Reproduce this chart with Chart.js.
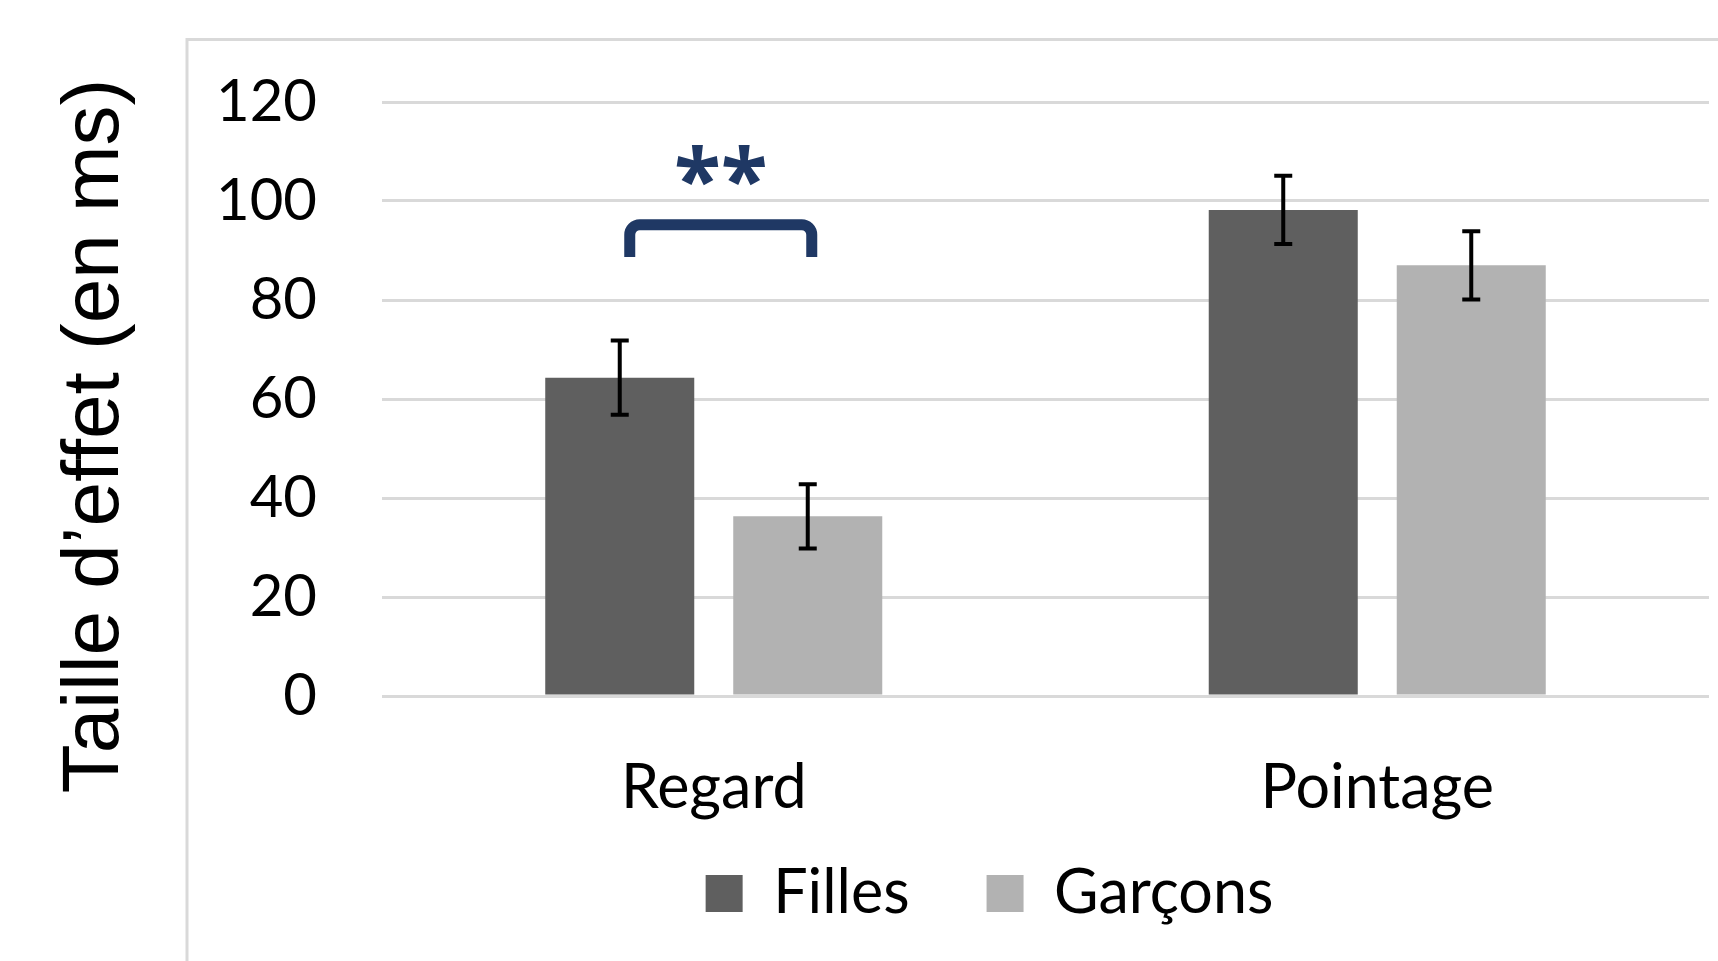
<!DOCTYPE html>
<html>
<head>
<meta charset="utf-8">
<script src="https://cdn.jsdelivr.net/npm/chart.js@4"></script>
<style>
  html, body { margin: 0; padding: 0; background: #fff; }
</style>
</head>
<body>
<canvas id="effetChart" width="1718" height="961"></canvas>
<script>
// Conditions
const categories = ['Regard', 'Pointage'];

// Moyennes (ms)
const filles = [64.3, 98.2];
const garcons = [36.3, 87.0];

// Erreurs standard
const fillesErr = [7.5, 6.9];
const garconsErr = [6.5, 6.9];

// Axe Y
const yMin = 0;
const yMax = 120;
const yStep = 20;

// Significativité (Regard)
const bracketTop = 95.2;
const bracketFoot = 88.7;
const starsLevel = 106.6;
const starsText = '**';

const yTitle = 'Taille d\u2019effet (en ms)';
const errors = [fillesErr, garconsErr];

const decor = {
  id: 'decor',
  afterLayout(chart) {
    // légende décalée comme dans l'original
    const lg = chart.legend;
    lg.left += 135; lg.right += 135;
    lg.top -= 40; lg.bottom -= 40;
  },
  beforeDraw(chart) {
    const ctx = chart.ctx;
    ctx.save();
    ctx.strokeStyle = '#d9d9d9';
    ctx.lineWidth = 3;
    ctx.strokeRect(187, 39.5, 2000, 2000);
    ctx.restore();
  },
  afterDatasetsDraw(chart) {
    const ctx = chart.ctx;
    const y = chart.scales.y;

    // barres d'erreur
    ctx.save();
    ctx.strokeStyle = '#000';
    ctx.lineWidth = 4;
    chart.data.datasets.forEach((ds, i) => {
      chart.getDatasetMeta(i).data.forEach((bar, j) => {
        const top = y.getPixelForValue(ds.data[j] + errors[i][j]);
        const bot = y.getPixelForValue(ds.data[j] - errors[i][j]);
        ctx.beginPath();
        ctx.moveTo(bar.x, top); ctx.lineTo(bar.x, bot);
        ctx.moveTo(bar.x - 9, top); ctx.lineTo(bar.x + 9, top);
        ctx.moveTo(bar.x - 9, bot); ctx.lineTo(bar.x + 9, bot);
        ctx.stroke();
      });
    });

    // accolade + étoiles
    const a = chart.getDatasetMeta(0).data[0].x + 10;
    const b = chart.getDatasetMeta(1).data[0].x + 4;
    const yt = y.getPixelForValue(bracketTop);
    const yf = y.getPixelForValue(bracketFoot);
    ctx.strokeStyle = '#1f3864';
    ctx.lineWidth = 11;
    ctx.lineJoin = 'round';
    ctx.beginPath();
    ctx.moveTo(a, yf);
    ctx.arcTo(a, yt, b, yt, 10);
    ctx.arcTo(b, yt, b, yf, 10);
    ctx.lineTo(b, yf);
    ctx.stroke();

    ctx.fillStyle = '#1f3864';
    ctx.font = 'bold 86px "Open Sans"';
    ctx.textAlign = 'center';
    ctx.textBaseline = 'middle';
    ctx.fillText(starsText, (a + b) / 2, y.getPixelForValue(starsLevel) + 18);
    ctx.restore();
  },
  afterDraw(chart) {
    const ctx = chart.ctx;
    ctx.save();
    ctx.translate(118, 436);
    ctx.rotate(-Math.PI / 2);
    ctx.font = '80px "Liberation Sans"';
    ctx.fillStyle = '#000';
    ctx.textAlign = 'center';
    ctx.textBaseline = 'alphabetic';
    ctx.fillText(yTitle, 0, 0);
    ctx.restore();
  }
};

new Chart(document.getElementById('effetChart'), {
  type: 'bar',
  data: {
    labels: categories,
    datasets: [
      {
        label: 'Filles',
        data: filles,
        backgroundColor: '#5f5f5f',
        borderWidth: 0,
        categoryPercentage: 0.5667,
        barPercentage: 0.7926
      },
      {
        label: 'Garçons',
        data: garcons,
        backgroundColor: '#b2b2b2',
        borderWidth: 0,
        categoryPercentage: 0.5667,
        barPercentage: 0.7926
      }
    ]
  },
  options: {
    responsive: false,
    animation: false,
    layout: {
      padding: { left: 0, right: 9, top: 102, bottom: -13 }
    },
    plugins: {
      legend: {
        position: 'bottom',
        labels: {
          boxWidth: 37,
          boxHeight: 37,
          padding: 77,
          color: '#000',
          font: { family: 'Lato', size: 61 }
        }
      },
      tooltip: { enabled: false }
    },
    scales: {
      x: {
        afterFit: s => { s.height = 130; },
        grid: { display: false, drawTicks: false },
        border: { display: false },
        ticks: {
          padding: 56,
          color: '#000',
          font: { family: 'Lato', size: 61 }
        }
      },
      y: {
        min: yMin,
        max: yMax,
        afterFit: s => { s.width = 382; },
        grid: { color: '#d9d9d9', lineWidth: 3, drawTicks: false },
        border: { display: false },
        ticks: {
          stepSize: yStep,
          padding: 65,
          color: '#000',
          font: { family: 'Lato', size: 58 }
        }
      }
    }
  },
  plugins: [decor]
});
</script>
</body>
</html>
